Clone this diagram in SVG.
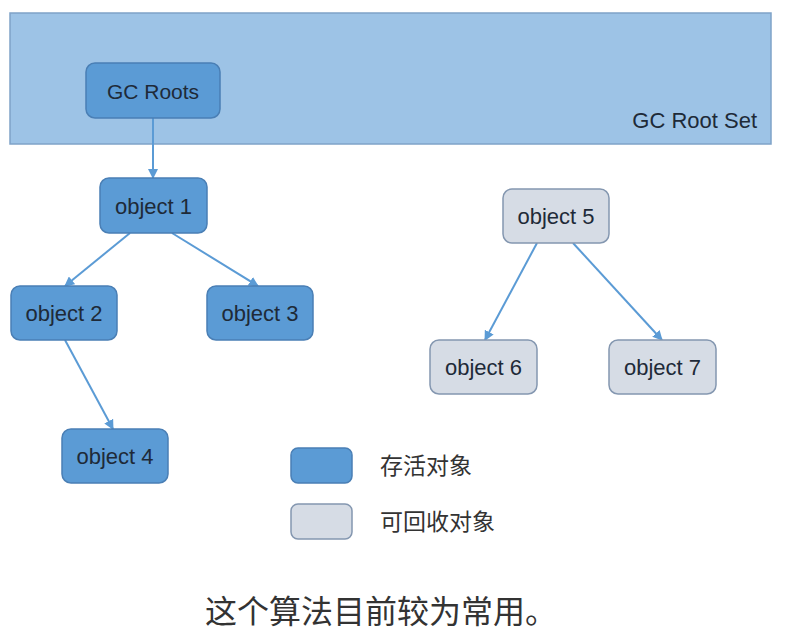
<svg xmlns="http://www.w3.org/2000/svg" width="786" height="640" viewBox="0 0 786 640">
<style>
.live rect{fill:#5B9BD5;stroke:#4A7FB5;stroke-width:1.5}
.dead rect{fill:#D6DCE5;stroke:#8497B0;stroke-width:1.5}
.lbl{font-family:"Liberation Sans",Arial,sans-serif;font-size:22px;fill:#1E2A38;text-anchor:middle;dominant-baseline:central}
.cjk{font-family:"Noto Sans CJK SC",sans-serif;fill:#333}
.edge{stroke:#5B9BD5;stroke-width:2;fill:none;marker-end:url(#ah)}
</style>
<defs>
<marker id="ah" viewBox="0 0 10 10" refX="9" refY="5" markerWidth="5" markerHeight="5" orient="auto" markerUnits="strokeWidth">
<path d="M0,0 L10,5 L0,10 z" fill="#5B9BD5"/>
</marker>
</defs>
<rect width="786" height="640" fill="#ffffff"/>
<g id="root-set">
<rect x="10" y="13" width="761" height="131" fill="#9DC3E6" stroke="#7FA3C8" stroke-width="1.5"/>
<text x="757" y="120" class="lbl" style="text-anchor:end;font-size:22px">GC Root Set</text>
</g>
<g id="edges">
<line class="edge" x1="153" y1="118" x2="153" y2="178"/>
<line class="edge" x1="130" y1="233" x2="65" y2="286"/>
<line class="edge" x1="172" y1="233" x2="258" y2="286"/>
<line class="edge" x1="65" y1="340" x2="113" y2="429"/>
<line class="edge" x1="537" y1="243" x2="485" y2="340"/>
<line class="edge" x1="573" y1="243" x2="662" y2="340"/>
</g>
<g id="gc-roots" class="live"><rect x="86" y="63" width="134" height="55" rx="9"/><text x="153" y="91" class="lbl" style="font-size:21px">GC Roots</text></g>
<g id="object1" class="live"><rect x="100" y="178" width="107" height="55" rx="9"/><text x="153.5" y="206" class="lbl">object 1</text></g>
<g id="object2" class="live"><rect x="11" y="286" width="106" height="54" rx="9"/><text x="64" y="313" class="lbl">object 2</text></g>
<g id="object3" class="live"><rect x="207" y="286" width="106" height="54" rx="9"/><text x="260" y="313" class="lbl">object 3</text></g>
<g id="object4" class="live"><rect x="62" y="429" width="106" height="54" rx="9"/><text x="115" y="456" class="lbl">object 4</text></g>
<g id="object5" class="dead"><rect x="503" y="189" width="106" height="54" rx="9"/><text x="556" y="216" class="lbl">object 5</text></g>
<g id="object6" class="dead"><rect x="430" y="340" width="107" height="54" rx="9"/><text x="483.5" y="367" class="lbl">object 6</text></g>
<g id="object7" class="dead"><rect x="609" y="340" width="107" height="54" rx="9"/><text x="662.5" y="367" class="lbl">object 7</text></g>
<g id="legend-live" class="live"><rect x="291" y="448" width="61" height="35" rx="7"/><text x="380" y="474" class="cjk" font-size="23">存活对象</text></g>
<g id="legend-dead" class="dead"><rect x="291" y="504" width="61" height="35" rx="7"/><text x="380" y="530" class="cjk" font-size="23">可回收对象</text></g>
<text x="205" y="623" class="cjk" font-size="32" fill="#111">这个算法目前较为常用。</text>
</svg>
